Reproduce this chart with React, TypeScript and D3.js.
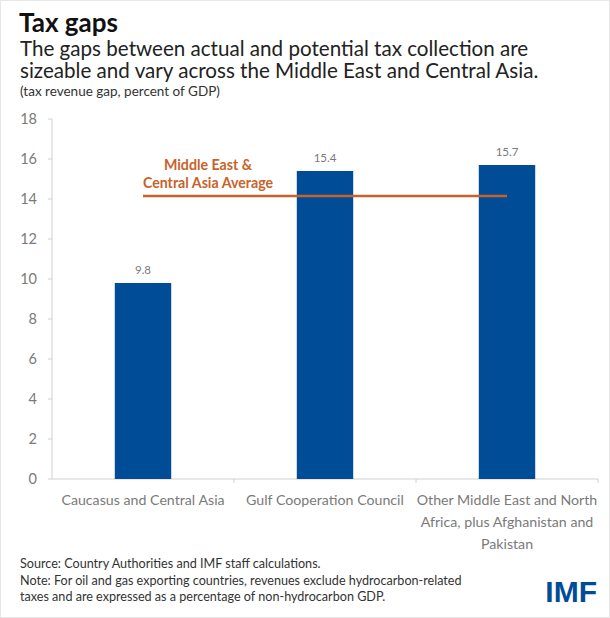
import React from "react";
import * as d3 from "d3";

const categories = [
  ["Caucasus and Central Asia"],
  ["Gulf Cooperation Council"],
  ["Other Middle East and North", "Africa, plus Afghanistan and", "Pakistan"],
];
const values = [9.8, 15.4, 15.7];
const valueLabels = ["9.8", "15.4", "15.7"];
const average = 14.15;
const yTicks = [0, 2, 4, 6, 8, 10, 12, 14, 16, 18];

const W = 610;
const H = 618;
const left = 52;
const right = 598;
const top = 119;
const bottom = 479;

export default function App() {
  const x = d3.scaleBand<number>().domain([0, 1, 2]).range([left, right]).paddingInner(0.69).paddingOuter(0.345);
  const xb = d3.scaleBand<number>().domain([0, 1, 2]).range([left, right]);
  const y = d3.scaleLinear().domain([0, 18]).range([bottom, top]);
  const gray = "#7a7a7a";
  const blue = "#004c97";
  const orange = "#c8622a";
  const font = "Lato, 'Open Sans', sans-serif";
  const c0 = x(0)! + x.bandwidth() / 2;
  const c2 = x(2)! + x.bandwidth() / 2;
  return (
    <svg width={W} height={H} style={{ position: "absolute", left: 0, top: 0, background: "#fff" }} fontFamily={font}>
      <rect x={0.5} y={0.5} width={W - 1} height={H - 1} fill="#fff" stroke="#e6e6e6" />
      <text x={19} y={32} fontSize={26} fontWeight={700} fill="#111">Tax gaps</text>
      <text x={20} y={56} fontSize={20.6} fill="#222">The gaps between actual and potential tax collection are</text>
      <text x={20} y={78} fontSize={20.6} fill="#222">sizeable and vary across the Middle East and Central Asia.</text>
      <text x={20} y={96} fontSize={13.5} fill="#333">(tax revenue gap, percent of GDP)</text>

      <line x1={left} x2={left} y1={y(18)} y2={y(0)} stroke="#d0d0d0" />
      {yTicks.map((t) => (
        <g key={t}>
          <line x1={left - 4} x2={left} y1={y(t)} y2={y(t)} stroke="#d0d0d0" />
          <text x={37} y={y(t)} dy="0.35em" textAnchor="end" fontSize={14.5} fill={gray}>{t}</text>
        </g>
      ))}
      <line x1={left} x2={right} y1={y(0)} y2={y(0)} stroke="#d0d0d0" />
      {[1, 2, 3].map((i) => (
        <line key={i} x1={left + xb.step() * i} x2={left + xb.step() * i} y1={y(0)} y2={y(0) + 4} stroke="#d0d0d0" />
      ))}

      {values.map((v, i) => (
        <g key={i}>
          <rect x={x(i)} y={y(v)} width={x.bandwidth()} height={y(0) - y(v)} fill={blue} />
          <text x={x(i)! + x.bandwidth() / 2} y={y(v) - 9} textAnchor="middle" fontSize={11.5} fill={gray}>{valueLabels[i]}</text>
          {categories[i].map((l, j) => (
            <text key={j} x={xb(i)! + xb.bandwidth() / 2} y={505 + j * 22} textAnchor="middle" fontSize={14.2} fill={gray}>{l}</text>
          ))}
        </g>
      ))}

      <line x1={c0} x2={c2} y1={y(average)} y2={y(average)} stroke={orange} strokeWidth={2.5} />
      <text x={208} y={170} textAnchor="middle" fontSize={14.2} fontWeight={700} fill={orange}>Middle East &amp;</text>
      <text x={208} y={188} textAnchor="middle" fontSize={14.2} fontWeight={700} fill={orange}>Central Asia Average</text>

      <text x={20} y={568} fontSize={12.6} fill="#333">Source: Country Authorities and IMF staff calculations.</text>
      <text x={20} y={585} fontSize={12.6} fill="#333">Note: For oil and gas exporting countries, revenues exclude hydrocarbon-related</text>
      <text x={20} y={601} fontSize={12.6} fill="#333">taxes and are expressed as a percentage of non-hydrocarbon  GDP.</text>
      <text x={597} y={602} textAnchor="end" fontSize={30} fontWeight={900} fill={blue} fontFamily="'Liberation Sans', Arial, sans-serif">IMF</text>
    </svg>
  );
}
